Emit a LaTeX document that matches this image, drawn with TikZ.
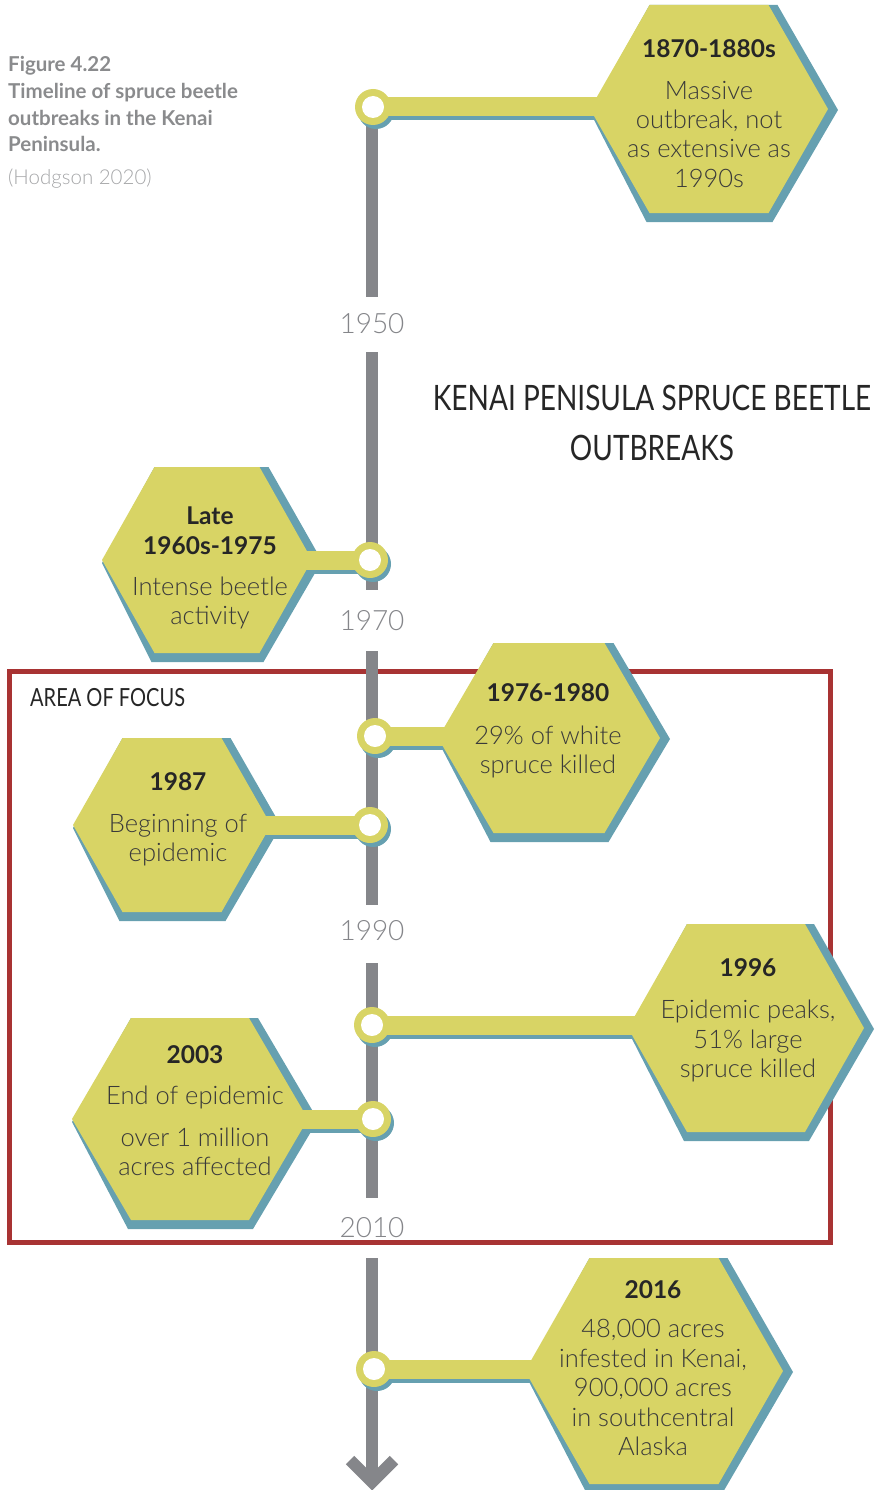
\documentclass[tikz,border=0pt]{standalone}
\usepackage{fontspec}
\setmainfont{Lato}[UprightFont={* Light},BoldFont={* Bold}]
\newfontfamily\condfont{Lato}[FakeStretch=0.8]
\newfontfamily\capfont{Lato}[UprightFont={* Light},BoldFont={* Bold}]

\definecolor{hexfill}{HTML}{D8D465}
\definecolor{hexshade}{HTML}{66A0B0}
\definecolor{axisgray}{HTML}{85868A}
\definecolor{focusred}{HTML}{A83333}
\definecolor{inkdark}{HTML}{262626}
\definecolor{inkbody}{HTML}{3A3A3A}
\definecolor{captiongray}{HTML}{8A8B8D}
\definecolor{sourcegray}{HTML}{A5A6A8}

% One event: marker on the axis, bar, and hexagon with its offset shade.
% #1 name, #2 #3 marker centre, #4 #5 hexagon centre, #6 half width,
% #7 half height, #8 side of the hexagon facing the axis (-1 left, +1 right)
\newcommand\timelineevent[8]{%
  \coordinate (#1) at (#2,#3);
  \coordinate (#1-hex) at (#4,#5);
  \coordinate (#1-join) at ({#4+#8*(#6-12)},#3);
  % shade layer
  \fill[hexshade] ({#4-#6},{#5+3}) -- ({#4-#6/2},{#5-#7}) -- ({#4+#6/2+9},{#5-#7})
     -- ({#4+#6+10},{#5+1}) -- ({#4+#6/2+4},{#5+#7+9}) -- ({#4-#6/2-3},{#5+#7+9}) -- cycle;
  \draw[barshade] ([xshift=2pt,yshift=-4pt]#1) -- ([yshift=-4pt]#1-join);
  \fill[hexshade] ([xshift=3pt,yshift=-4pt]#1) circle[radius=18pt];
  % face layer
  \fill[hexfill] ({#4-#6},#5) -- ({#4-#6/2},{#5-#7}) -- ({#4+#6/2},{#5-#7})
     -- ({#4+#6},#5) -- ({#4+#6/2},{#5+#7}) -- ({#4-#6/2},{#5+#7}) -- cycle;
  \draw[barface] (#1) -- (#1-join);
  \fill[hexfill] (#1) circle[radius=18pt];
  \fill[white] (#1) circle[radius=11pt];
}

\begin{document}
\begin{tikzpicture}[x=1pt,y=-1pt,
  barshade/.style={hexshade,line width=19pt},
  barface/.style={hexfill,line width=19pt},
  axisline/.style={axisgray,line width=12pt},
  yearlabel/.style={anchor=base,text=axisgray,font=\fontsize{28}{32}\selectfont,inner sep=0pt},
  headtext/.style={anchor=base,text=inkdark,align=center,inner sep=0pt,
    font=\bfseries\fontsize{24.5}{30}\selectfont},
  bodytext/.style={anchor=base,text=inkbody,align=center,inner sep=0pt,
    font=\fontsize{25.5}{29.5}\selectfont},
  captext/.style={anchor=base west,inner sep=0pt,align=left},
  titletext/.style={anchor=base,inner sep=0pt,text=inkdark,align=center,
    font=\condfont\fontsize{35}{50}\selectfont}]
\useasboundingbox (0,0) rectangle (883,1490);

% caption (base anchor sits on the last line)
\node[captext,text=captiongray,font=\capfont\bfseries\fontsize{20.5}{26.7}\selectfont] (caption) at (8,152)
  {Figure 4.22\\Timeline of spruce beetle\\outbreaks in the Kenai\\Peninsula.};
\node[captext,text=sourcegray,font=\capfont\fontsize{20.5}{26}\selectfont] (source) at (8,185) {(Hodgson 2020)};

% area of focus frame
\draw[focusred,line width=4.5pt] (9.5,671.5) rectangle (830.5,1242.5);
\node[anchor=base west,inner sep=0pt,text=inkdark,font=\condfont\fontsize{25}{30}\selectfont] (focus) at (30,706) {AREA OF FOCUS};

% axis
\coordinate (ax0) at (372,107);
\coordinate (ax1) at (372,297);
\coordinate (ax2) at (372,352);
\coordinate (ax3) at (372,590);
\coordinate (ax4) at (372,651);
\coordinate (ax5) at (372,905);
\coordinate (ax6) at (372,963);
\coordinate (ax7) at (372,1198);
\coordinate (ax8) at (372,1258);
\coordinate (axtip) at (372,1482);
\coordinate (axl) at (350,1460);
\coordinate (axr) at (394,1460);
\draw[axisline] (ax0) -- (ax1);
\draw[axisline] (ax2) -- (ax3);
\draw[axisline] (ax4) -- (ax5);
\draw[axisline] (ax6) -- (ax7);
\draw[axisline] (ax8) -- (axtip);
\draw[axisline,miter limit=4] (axl) -- (axtip) -- (axr);

\node[yearlabel] (y1950) at (372,333) {1950};
\node[yearlabel] (y1970) at (372,630) {1970};
\node[yearlabel] (y1990) at (372,940) {1990};
\node[yearlabel] (y2010) at (372,1237) {2010};

% events
\timelineevent{ev1}{373}{107}{709}{109}{119}{104}{-1}
\timelineevent{ev2}{370}{560}{207}{560}{105}{93}{1}
\timelineevent{ev3}{375}{736}{549}{738}{111}{95}{-1}
\timelineevent{ev4}{370}{825}{172}{825}{99}{87}{1}
\timelineevent{ev5}{372}{1025}{746}{1028}{118}{104}{-1}
\timelineevent{ev6}{373}{1119}{190}{1119}{118}{101}{1}
\timelineevent{ev7}{374}{1369}{654}{1371}{129}{113}{-1}

% event texts (base anchor = baseline of the last line)
\node[headtext] (h1) at (709,58) {1870-1880s};
\node[bodytext] (b1) at (709,187.5) {Massive\\outbreak, not\\as extensive as\\1990s};

\node[headtext] (h2) at (210,554.5) {Late\\1960s-1975};
\node[bodytext] (b2) at (210,624.5) {Intense beetle\\activity};

\node[headtext] (h3) at (548,701) {1976-1980};
\node[bodytext] (b3) at (548,773.5) {29\% of white\\spruce killed};

\node[headtext] (h4) at (178,790) {1987};
\node[bodytext] (b4) at (178,861.5) {Beginning of\\epidemic};

\node[headtext] (h5) at (748,976) {1996};
\node[bodytext] (b5) at (748,1077.5) {Epidemic peaks,\\51\% large\\spruce killed};

\node[headtext] (h6) at (195,1063) {2003};
\node[bodytext] (b6) at (195,1104) {End of epidemic};
\node[bodytext] (b6b) at (195,1175.5) {over 1 million\\acres affected};

\node[headtext] (h7) at (653,1298) {2016};
\node[bodytext] (b7) at (653,1455.5) {48,000 acres\\infested in Kenai,\\900,000 acres\\in southcentral\\Alaska};

% title
\node[titletext] (title) at (652,460.5) {KENAI PENISULA SPRUCE BEETLE\\OUTBREAKS};
\end{tikzpicture}
\end{document}
